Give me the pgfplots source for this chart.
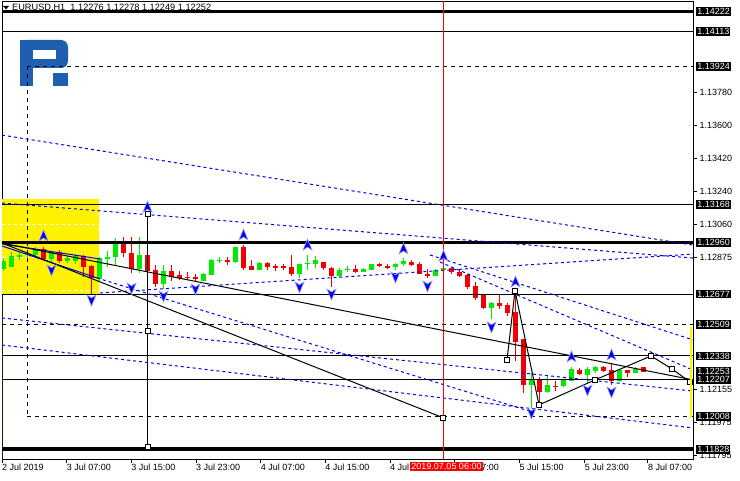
\documentclass[border=0pt]{standalone}
\usepackage{pgfplots}
\pgfplotsset{compat=1.18}
\usepackage{pgfplotstable}
\usepackage{fontspec}
\setmainfont{Liberation Sans}
\definecolor{mtgreen}{RGB}{0,235,0}
\definecolor{mtred}{RGB}{240,0,0}
\definecolor{mtblue}{RGB}{0,0,235}
\definecolor{arrowedge}{RGB}{150,150,255}
\definecolor{logoblue}{RGB}{30,95,175}

\pgfdeclareplotmark{fup}{%
  \pgfpathmoveto{\pgfpoint{0pt}{6pt}}%
  \pgfpathlineto{\pgfpoint{4.5pt}{-5pt}}%
  \pgfpathlineto{\pgfpoint{0pt}{-2pt}}%
  \pgfpathlineto{\pgfpoint{-4.5pt}{-5pt}}%
  \pgfpathclose\pgfusepathqfillstroke}
\pgfdeclareplotmark{fdown}{%
  \pgfpathmoveto{\pgfpoint{0pt}{-6pt}}%
  \pgfpathlineto{\pgfpoint{4.5pt}{5pt}}%
  \pgfpathlineto{\pgfpoint{0pt}{2pt}}%
  \pgfpathlineto{\pgfpoint{-4.5pt}{5pt}}%
  \pgfpathclose\pgfusepathqfillstroke}

\pgfplotstableread{
k o h l c
0 1.12816 1.12874 1.12803 1.12856
1 1.12827 1.12907 1.12825 1.12883
2 1.12878 1.12907 1.12863 1.12889
3 1.12889 1.12914 1.12863 1.12900
4 1.12892 1.12936 1.12881 1.12925
6 1.12869 1.12914 1.12848 1.12907
8 1.12856 1.12885 1.12848 1.12874
9 1.12859 1.12896 1.12841 1.12885
12 1.12761 1.12881 1.12747 1.12874
13 1.12870 1.12914 1.12827 1.12881
14 1.12878 1.12984 1.12834 1.12966
17 1.12816 1.12988 1.12794 1.12892
20 1.12732 1.12834 1.12703 1.12805
25 1.12750 1.12791 1.12747 1.12787
26 1.12783 1.12870 1.12780 1.12863
27 1.12856 1.12878 1.12845 1.12863
29 1.12852 1.12936 1.12848 1.12933
32 1.12811 1.12854 1.12807 1.12847
37 1.12785 1.12843 1.12763 1.12840
38 1.12840 1.12891 1.12807 1.12847
39 1.12843 1.12887 1.12821 1.12861
42 1.12774 1.12818 1.12763 1.12811
43 1.12807 1.12832 1.12800 1.12814
45 1.12800 1.12821 1.12796 1.12814
46 1.12811 1.12843 1.12807 1.12840
49 1.12825 1.12847 1.12811 1.12843
50 1.12840 1.12872 1.12829 1.12857
54 1.12777 1.12814 1.12774 1.12811
55 1.12807 1.12836 1.12803 1.12818
61 1.12600 1.12633 1.12542 1.12629
66 1.12178 1.12243 1.12053 1.12214
68 1.12141 1.12229 1.12137 1.12178
70 1.12174 1.12214 1.12170 1.12211
71 1.12200 1.12276 1.12200 1.12265
73 1.12235 1.12279 1.12192 1.12265
74 1.12257 1.12283 1.12243 1.12279
77 1.12200 1.12268 1.12196 1.12261
79 1.12246 1.12279 1.12243 1.12268
}\greentab

\pgfplotstableread{
k o h l c
5 1.12925 1.12936 1.12863 1.12869
7 1.12907 1.12918 1.12848 1.12859
10 1.12885 1.12892 1.12772 1.12827
11 1.12831 1.12837 1.12670 1.12765
15 1.12969 1.12988 1.12878 1.12900
16 1.12903 1.12988 1.12794 1.12813
18 1.12892 1.13110 1.12747 1.12802
19 1.12809 1.12834 1.12714 1.12732
21 1.12805 1.12834 1.12747 1.12769
22 1.12781 1.12802 1.12754 1.12765
23 1.12772 1.12798 1.12754 1.12765
24 1.12769 1.12787 1.12743 1.12761
28 1.12863 1.12881 1.12837 1.12852
30 1.12934 1.12945 1.12807 1.12818
31 1.12829 1.12865 1.12807 1.12811
33 1.12847 1.12854 1.12807 1.12825
34 1.12832 1.12843 1.12803 1.12821
35 1.12829 1.12843 1.12807 1.12821
36 1.12825 1.12891 1.12774 1.12785
40 1.12850 1.12854 1.12811 1.12818
41 1.12821 1.12825 1.12715 1.12774
44 1.12814 1.12836 1.12793 1.12796
47 1.12843 1.12847 1.12825 1.12829
48 1.12832 1.12840 1.12814 1.12821
51 1.12854 1.12861 1.12832 1.12836
52 1.12843 1.12854 1.12785 1.12789
53 1.12785 1.12814 1.12767 1.12777
56 1.12818 1.12821 1.12789 1.12796
57 1.12800 1.12807 1.12771 1.12777
58 1.12781 1.12785 1.12704 1.12715
59 1.12719 1.12741 1.12646 1.12657
60 1.12670 1.12673 1.12597 1.12600
62 1.12629 1.12670 1.12594 1.12611
63 1.12615 1.12629 1.12557 1.12572
64 1.12579 1.12694 1.12311 1.12415
65 1.12433 1.12433 1.12134 1.12181
67 1.12214 1.12222 1.12060 1.12141
69 1.12174 1.12200 1.12145 1.12167
72 1.12261 1.12272 1.12232 1.12239
75 1.12279 1.12283 1.12250 1.12254
76 1.12261 1.12294 1.12181 1.12203
78 1.12261 1.12261 1.12224 1.12246
80 1.12276 1.12278 1.12249 1.12252
}\redtab

\pgfplotstableread{
k p
5 1.12995
18 1.13153
30 1.13000
38 1.12945
50 1.12924
55 1.12885
64 1.12743
71 1.12333
76 1.12343
}\upfr

\pgfplotstableread{
k p
6 1.12809
11 1.12644
16 1.12710
20 1.12666
24 1.12705
37 1.12716
41 1.12677
49 1.12770
53 1.12721
61 1.12497
66 1.12026
73 1.12152
76 1.12141
}\downfr

\pgfplotsset{candle/.style={draw=none, mark=none, forget plot,
  error bars/y dir=plus, error bars/y explicit, error bars/error mark=none,
  error bars/error bar style={solid, line width=#1}},
  bluedash/.style={mtblue, line width=1pt, dash pattern=on 3pt off 3pt}}

\begin{document}
\begin{tikzpicture}
\useasboundingbox (0,0) rectangle (740pt,480pt);
% logo
\fill[logoblue, rounded corners=7pt] (20pt,412pt) rectangle (68pt,440pt);
\fill[logoblue] (20pt,394pt) rectangle (33pt,440pt);
\fill[white] (33pt,421pt) rectangle (56pt,430pt);
\fill[logoblue] (53pt,394pt) rectangle (68pt,407pt);
% title
\fill (3pt,474pt) -- (9pt,474pt) -- (6pt,470.5pt) -- cycle;
\node[anchor=west, font=\fontsize{9.2}{10}\selectfont, inner sep=0pt] at (12pt,472pt) {EURUSD,H1\ \ 1.12276 1.12278 1.12249 1.12252};

\begin{axis}[at={(2pt,21pt)}, anchor=south west, width=691pt, height=458pt, scale only axis,
  xmin=-0.19, xmax=86.19, ymin=1.11774, ymax=1.14281,
  clip mode=individual,
  axis line style={line width=0.8pt},
  tick align=outside, major tick length=3.5pt,
  tick style={line width=0.8pt, black},
  xtick pos=left, ytick pos=right, yticklabel pos=right,
  ticklabel style={font=\fontsize{9}{10}\selectfont},
  xtick={-0.19,7.9,15.95,24.05,32.15,40.2,48.3,56.4,64.5,72.65,80.55},
  xticklabels={2 Jul 2019,3 Jul 07:00,3 Jul 15:00,3 Jul 23:00,4 Jul 07:00,4 Jul 15:00,4 Jul 23:00,5 Jul 07:00,5 Jul 15:00,5 Jul 23:00,8 Jul 07:00},
  xticklabel style={anchor=north west, inner sep=1pt, xshift=-1pt},
  ytick={1.13780,1.13600,1.13420,1.13240,1.13060,1.12875,1.12155,1.11975,1.11795},
  yticklabels={1.13780,1.13600,1.13420,1.13240,1.13060,1.12875,1.12155,1.11975,1.11795},
  yticklabel style={anchor=west, inner sep=1pt, xshift=2pt},
]
% yellow rectangle
\addplot[draw=none, fill=yellow, forget plot] coordinates {(-0.19,1.13197) (11.94,1.13197) (11.94,1.12677) (-0.19,1.12677)} \closedcycle;
\addplot[white, dashed, line width=0.8pt] coordinates {(-0.19,1.13060) (11.94,1.13060)};
\addplot[white, dashed, line width=0.8pt] coordinates {(-0.19,1.12875) (11.94,1.12875)};
\addplot[white, dashed, line width=0.8pt] coordinates {(-0.19,1.12697) (11.94,1.12697)};

% candles: wicks and bodies
\addplot[candle=1pt, error bars/error bar style={draw=mtgreen}] table[x=k, y=l, y error plus expr=\thisrow{h}-\thisrow{l}] {\greentab};
\addplot[candle=5pt, error bars/error bar style={draw=mtgreen}] table[x=k, y=o, y error plus expr=\thisrow{c}-\thisrow{o}] {\greentab};
\addplot[candle=1pt, error bars/error bar style={draw=mtred}] table[x=k, y=l, y error plus expr=\thisrow{h}-\thisrow{l}] {\redtab};
\addplot[candle=5pt, error bars/error bar style={draw=mtred}] table[x=k, y=c, y error plus expr=\thisrow{o}-\thisrow{c}] {\redtab};

% horizontal levels
\addplot[black, line width=3pt] coordinates {(-0.19,1.14222) (86.19,1.14222)};
\addplot[black, line width=1pt] coordinates {(-0.19,1.14113) (86.19,1.14113)};
\addplot[black, line width=1pt, dash pattern=on 4pt off 4pt] coordinates {(2.94,1.13924) (86.19,1.13924)};
\addplot[black, line width=1pt] coordinates {(-0.19,1.13168) (86.19,1.13168)};
\addplot[black, line width=3.5pt] coordinates {(-0.19,1.12960) (86.19,1.12960)};
\addplot[black, line width=1pt] coordinates {(-0.19,1.12677) (86.19,1.12677)};
\addplot[black, line width=1pt, dash pattern=on 4pt off 4pt] coordinates {(-0.19,1.12509) (86.19,1.12509)};
\addplot[black, line width=1pt] coordinates {(-0.19,1.12338) (86.19,1.12338)};
\addplot[black, line width=1pt] coordinates {(-0.19,1.12207) (86.19,1.12207)};
\addplot[black, line width=1pt, dash pattern=on 4pt off 4pt] coordinates {(2.94,1.12008) (86.19,1.12008)};
\addplot[black, line width=4pt] coordinates {(-0.19,1.11828) (86.19,1.11828)};
\addplot[black!70!blue, line width=1pt, dash pattern=on 4pt off 4pt] coordinates {(2.94,1.13924) (2.94,1.12008)};

% blue trend lines
\addplot[bluedash] coordinates {(-0.19,1.13547) (86.19,1.12945)};
\addplot[bluedash] coordinates {(-0.19,1.13175) (86.19,1.12874)};
\addplot[bluedash] coordinates {(12.06,1.12683) (86.19,1.12896)};
\addplot[bluedash] coordinates {(-0.19,1.12546) (86.19,1.12146)};
\addplot[bluedash] coordinates {(-0.19,1.12398) (86.19,1.11944)};
\addplot[bluedash] coordinates {(11.69,1.12765) (66.06,1.12032)};
\addplot[bluedash] coordinates {(53.31,1.12891) (86.19,1.12426)};
\addplot[bluedash] coordinates {(54.56,1.12852) (86.19,1.12261)};
\addplot[mtblue, line width=1pt] coordinates {(-0.19,1.12951) (12.06,1.12869)};
\addplot[mtblue, line width=1pt] coordinates {(-0.19,1.12940) (11.7,1.12765)};

% red vertical line
\addplot[red, line width=0.8pt] coordinates {(55,1.11774) (55,1.14281)};

% black trend / zigzag lines
\addplot[black, line width=1pt] coordinates {(-0.19,1.12956) (86.19,1.12207)};
\addplot[black, line width=1pt, mark=square*, mark size=2.5pt, mark options={fill=white}, mark indices={2}] coordinates {(-0.19,1.12956) (55,1.11999)};
\addplot[black, line width=1pt, mark=square*, mark size=2.5pt, mark options={fill=white}] coordinates {(18,1.13115) (18,1.12475) (18,1.11840)};
\addplot[black, line width=1pt, mark=square*, mark size=2.5pt, mark options={fill=white}] coordinates {(62.94,1.12316) (63.94,1.12694) (66.94,1.12070) (73.94,1.12207) (80.94,1.12338) (83.56,1.12267) (85.81,1.12196)};

% yellow bracket on the right
\addplot[yellow, line width=2pt] coordinates {(86.0,1.12497) (86.0,1.11999)};

% fractal arrows
\addplot[only marks, mark=fup, mark options={fill=mtblue, draw=arrowedge, line width=0.6pt}] table[x=k, y=p] {\upfr};
\addplot[only marks, mark=fdown, mark options={fill=mtblue, draw=arrowedge, line width=0.6pt}] table[x=k, y=p] {\downfr};

% boxed price labels
\foreach \v in {1.14222,1.14113,1.13924,1.13168,1.12960,1.12677,1.12509,1.12338,1.12253,1.12207,1.12008,1.11828}{
  \edef\tmp{\noexpand\node[anchor=west, fill=black, text=white, inner sep=1.2pt, font=\noexpand\fontsize{9}{10}\noexpand\selectfont] at (axis cs:86.19,\v) [xshift=3pt] {\v};}\tmp
}
\end{axis}
\node[fill=red, text=white, inner sep=1.2pt, font=\fontsize{9}{10}\selectfont] at (446.5pt,13.5pt) {2019.07.05 06:00};
\end{tikzpicture}
\end{document}
